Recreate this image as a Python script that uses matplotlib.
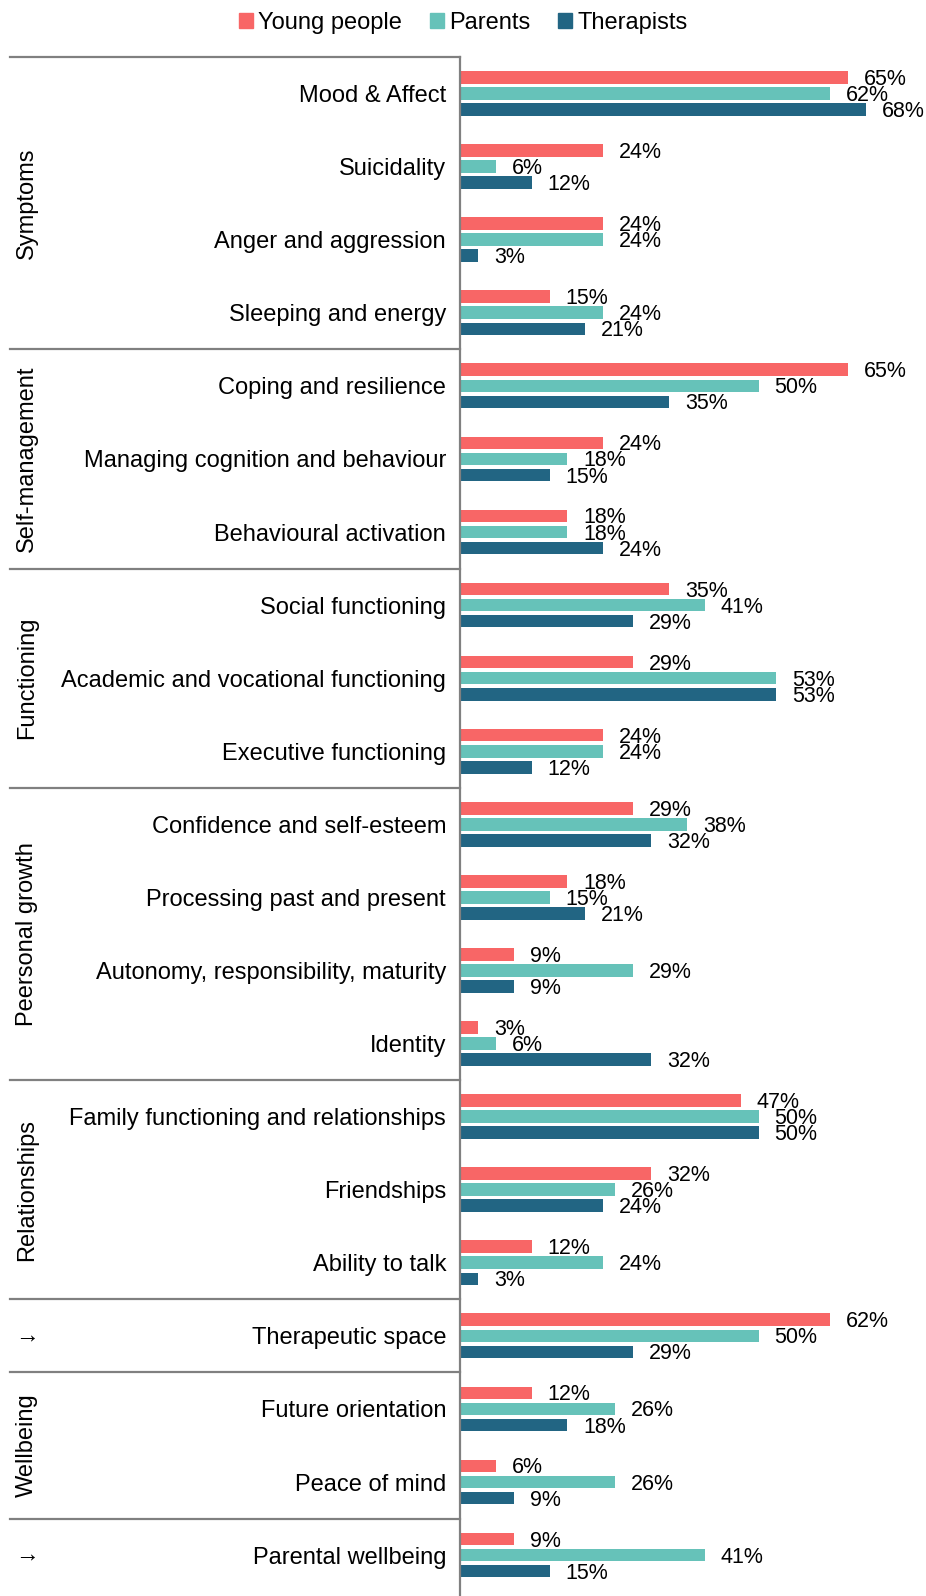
import numpy as np
import matplotlib
matplotlib.use("Agg")
import matplotlib.pyplot as plt
from matplotlib.patches import Patch

plt.rcParams['font.family'] = ['Liberation Sans', 'DejaVu Sans']

categories = ["Mood & Affect", "Suicidality", "Anger and aggression", "Sleeping and energy",
              "Coping and resilience", "Managing cognition and behaviour", "Behavioural activation",
              "Social functioning", "Academic and vocational functioning", "Executive functioning",
              "Confidence and self-esteem", "Processing past and present",
              "Autonomy, responsibility, maturity", "Identity",
              "Family functioning and relationships", "Friendships", "Ability to talk",
              "Therapeutic space", "Future orientation", "Peace of mind", "Parental wellbeing"]
young = [65, 24, 24, 15, 65, 24, 18, 35, 29, 24, 29, 18, 9, 3, 47, 32, 12, 62, 12, 6, 9]
parents = [62, 6, 24, 24, 50, 18, 18, 41, 53, 24, 38, 15, 29, 6, 50, 26, 24, 50, 26, 26, 41]
therapists = [68, 12, 3, 21, 35, 15, 24, 29, 53, 12, 32, 21, 9, 32, 50, 24, 3, 29, 18, 9, 15]

# groups: (label, first row, last row)
groups = [("Symptoms", 0, 3), ("Self-management", 4, 6), ("Functioning", 7, 9),
          ("Peersonal growth", 10, 13), ("Relationships", 14, 16), ("\u2192", 17, 17),
          ("Wellbeing", 18, 19), ("\u2192", 20, 20)]

series = [("Young people", young, "#F86666"),
          ("Parents", parents, "#66C2B9"),
          ("Therapists", therapists, "#226583")]

W, H = 926, 1596
fig = plt.figure(figsize=(W / 100, H / 100), dpi=100)
ax = fig.add_axes([460 / W, 0, 1 - 460 / W, 1 - 57 / H])

y = np.arange(len(categories))
off = 0.22
bh = 0.172
for i, (name, vals, col) in enumerate(series):
    pos = y + (i - 1) * off
    ax.barh(pos, vals, height=bh, color=col, label=name)
    for p, v in zip(pos, vals):
        ax.annotate(f"{v}%", (v, p), xytext=(16, -2), textcoords="offset pixels",
                    ha="left", va="center", fontsize=15.5, color="black")

row_px = 73.5
ax.set_xlim(0, (W - 460) / 5.97)
ax.set_ylim(20.5 + 4.4 / row_px, -0.5)
ax.set_yticks(y)
ax.set_yticklabels(categories, fontsize=17)
ax.tick_params(axis="y", length=0, pad=10)
ax.set_xticks([])
for s in ["top", "right", "bottom"]:
    ax.spines[s].set_visible(False)
ax.spines["left"].set_color("#808080")
ax.spines["left"].set_linewidth(1.6)

# divider lines and group labels to the left of the axis
x_left = (10 - 460) / (W - 460)
x_lab = (27 - 460) / (W - 460)
trans = ax.get_yaxis_transform()
for name, a, b in groups:
    ax.plot([x_left, 0], [a - 0.5, a - 0.5], transform=trans, color="#808080",
            lw=1.6, clip_on=False)
    rot = 0 if name == "\u2192" else 90
    ax.text(x_lab, (a + b) / 2, name, transform=trans, rotation=rot,
            ha="center", va="center", fontsize=17)

handles = [Patch(color=c, label=n) for n, _, c in series]
fig.legend(handles=handles, loc="center", bbox_to_anchor=(463 / W, 1 - 23 / H), ncol=3,
           frameon=False, fontsize=17, handlelength=0.6, handleheight=0.6,
           handletextpad=0.2, columnspacing=1.2)

fig.savefig("out.png", dpi=100)
